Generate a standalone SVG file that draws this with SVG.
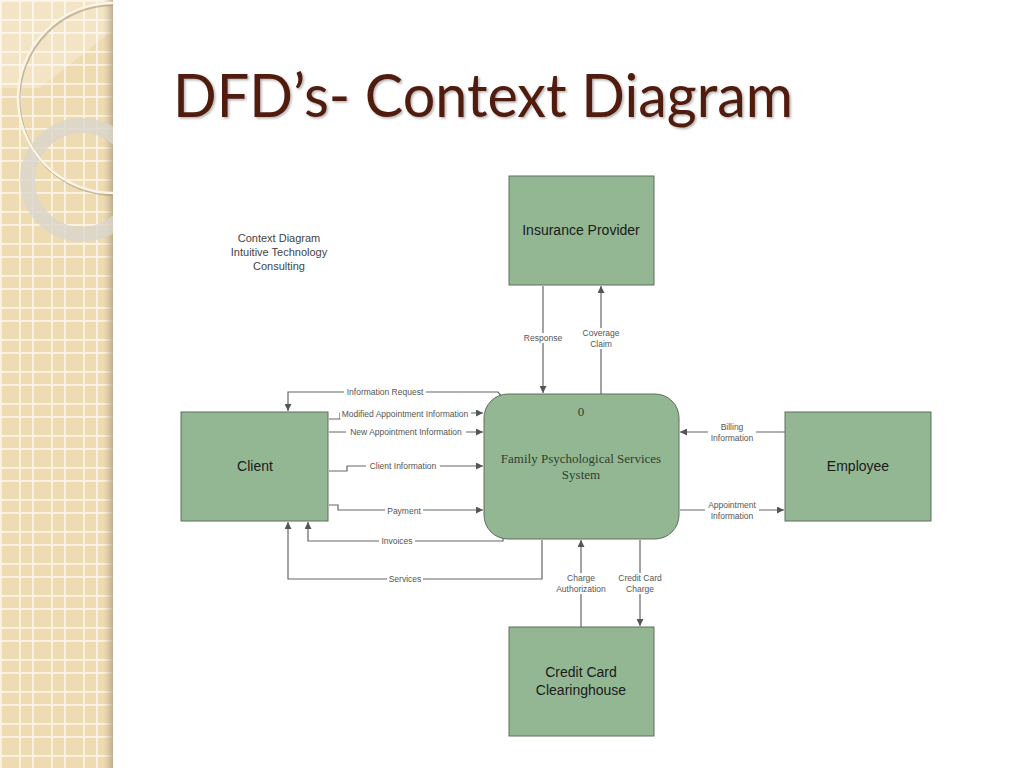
<svg xmlns="http://www.w3.org/2000/svg" width="1024" height="768" viewBox="0 0 1024 768">
<defs>
<style>
.node{fill:#93b793;stroke:#5e6e5e;stroke-width:1}
.ntext{font-family:"Liberation Sans",Arial,sans-serif;font-size:14px;fill:#1a1a1a;text-anchor:middle}
.ptext{font-family:"Liberation Serif","Times New Roman",serif;font-size:13px;fill:#2f3f2f;text-anchor:middle}
.flow{fill:none;stroke:#666;stroke-width:1.2}
.lbl{font-family:"Liberation Sans",Arial,sans-serif;font-size:8.5px;fill:#555;text-anchor:middle}
.lblbg{fill:#fff}
.note{font-family:"Liberation Sans",Arial,sans-serif;font-size:11px;fill:#444;text-anchor:middle}
</style>
<marker id="arr" viewBox="0 0 10 10" refX="10" refY="5" markerWidth="7" markerHeight="7" markerUnits="userSpaceOnUse" orient="auto">
<path d="M0,0 L10,5 L0,10 z" fill="#555"/>
</marker>
<pattern id="grid" x="0" y="0" width="32" height="32" patternUnits="userSpaceOnUse">
<rect width="32" height="32" fill="#efdbb2"/>
<rect x="0" y="0" width="32" height="1.8" fill="#fbf4e4"/>
<rect x="0" y="19" width="32" height="1.8" fill="#fbf4e4"/>
<rect x="0" y="0" width="1.8" height="32" fill="#fbf4e4"/>
<rect x="19" y="0" width="1.8" height="32" fill="#fbf4e4"/>
</pattern>
<linearGradient id="shade" x1="0" y1="0" x2="1" y2="0">
<stop offset="0" stop-color="#c8b89a" stop-opacity="0"/>
<stop offset="1" stop-color="#a89878" stop-opacity="0.7"/>
</linearGradient>
<clipPath id="stripClip"><rect x="0" y="0" width="113" height="768"/></clipPath>
<filter id="tshadow" x="-5%" y="-5%" width="110%" height="120%">
<feDropShadow dx="1.5" dy="1.5" stdDeviation="1" flood-color="#000" flood-opacity="0.3"/>
</filter>
</defs>
<rect width="1024" height="768" fill="#ffffff"/>
<g id="strip" clip-path="url(#stripClip)">
<rect x="0" y="0" width="113" height="768" fill="url(#grid)"/>
<path d="M0,0 L113,0 L113,30 L40,88 L0,88 z" fill="#ffffff" opacity="0.25"/>
<rect x="103" y="0" width="10" height="768" fill="url(#shade)"/>
<circle cx="82" cy="180" r="54.5" fill="none" stroke="#d9d6cc" stroke-opacity="0.8" stroke-width="15"/>
<circle cx="113" cy="98" r="95" fill="none" stroke="#9a8a6a" stroke-opacity="0.5" stroke-width="3" transform="translate(1,1.5)"/>
<circle cx="113" cy="98" r="95" fill="none" stroke="#fbf5e6" stroke-width="2.5"/>
</g>
<text x="173" y="117" font-family="Lato,'Open Sans',sans-serif" font-size="60" fill="#4f1c10" textLength="620" lengthAdjust="spacingAndGlyphs" filter="url(#tshadow)">DFD’s- Context Diagram</text>
<g id="note">
<text class="note" x="279" y="242">Context Diagram</text>
<text class="note" x="279" y="256">Intuitive Technology</text>
<text class="note" x="279" y="270">Consulting</text>
</g>
<g id="connectors">
<path class="flow" d="M543,286 L543,393" marker-end="url(#arr)"/>
<path class="flow" d="M601,394 L601,286" marker-end="url(#arr)"/>
<path class="flow" d="M503,398 L498,392 L288,392 L288,411" marker-end="url(#arr)"/>
<path class="flow" d="M329,419 L340,419 L340,413 L483,413" marker-end="url(#arr)"/>
<path class="flow" d="M329,432 L483,432" marker-end="url(#arr)"/>
<path class="flow" d="M329,471 L347,471 L347,466 L483,466" marker-end="url(#arr)"/>
<path class="flow" d="M329,505 L338,505 L338,510 L483,510" marker-end="url(#arr)"/>
<path class="flow" d="M503,537 L503,541 L308,541 L308,522" marker-end="url(#arr)"/>
<path class="flow" d="M542,540 L542,579 L288,579 L288,522" marker-end="url(#arr)"/>
<path class="flow" d="M785,432 L680,432" marker-end="url(#arr)"/>
<path class="flow" d="M680,510 L784,510" marker-end="url(#arr)"/>
<path class="flow" d="M581,627 L581,540" marker-end="url(#arr)"/>
<path class="flow" d="M640,540 L640,626" marker-end="url(#arr)"/>
<g id="labels">
<rect class="lblbg" x="520" y="333" width="46" height="10"/>
<text class="lbl" x="543" y="341">Response</text>
<rect class="lblbg" x="581" y="328" width="40" height="21"/>
<text class="lbl" x="601" y="336">Coverage</text>
<text class="lbl" x="601" y="347">Claim</text>
<rect class="lblbg" x="344" y="387" width="82" height="10"/>
<text class="lbl" x="385" y="395">Information Request</text>
<rect class="lblbg" x="340" y="409" width="131" height="10"/>
<text class="lbl" x="405" y="417">Modified Appointment Information</text>
<rect class="lblbg" x="346" y="427" width="120" height="10"/>
<text class="lbl" x="406" y="435">New Appointment Information</text>
<rect class="lblbg" x="366" y="461" width="74" height="10"/>
<text class="lbl" x="403" y="469">Client Information</text>
<rect class="lblbg" x="385" y="506" width="38" height="10"/>
<text class="lbl" x="404" y="514">Payment</text>
<rect class="lblbg" x="379" y="536" width="36" height="10"/>
<text class="lbl" x="397" y="544">Invoices</text>
<rect class="lblbg" x="387" y="574" width="36" height="10"/>
<text class="lbl" x="405" y="582">Services</text>
<rect class="lblbg" x="708" y="422" width="48" height="21"/>
<text class="lbl" x="732" y="430">Billing</text>
<text class="lbl" x="732" y="441">Information</text>
<rect class="lblbg" x="705" y="500" width="54" height="21"/>
<text class="lbl" x="732" y="508">Appointment</text>
<text class="lbl" x="732" y="519">Information</text>
<rect class="lblbg" x="553" y="573" width="56" height="21"/>
<text class="lbl" x="581" y="581">Charge</text>
<text class="lbl" x="581" y="592">Authorization</text>
<rect class="lblbg" x="616" y="573" width="48" height="21"/>
<text class="lbl" x="640" y="581">Credit Card</text>
<text class="lbl" x="640" y="592">Charge</text>
</g>
</g>
<g id="insurance">
<rect class="node" x="509" y="176" width="145" height="109"/>
<text class="ntext" x="581" y="235">Insurance Provider</text>
</g>
<g id="client">
<rect class="node" x="181" y="412" width="147" height="109"/>
<text class="ntext" x="255" y="471">Client</text>
</g>
<g id="employee">
<rect class="node" x="785" y="412" width="146" height="109"/>
<text class="ntext" x="858" y="471">Employee</text>
</g>
<g id="clearinghouse">
<rect class="node" x="509" y="627" width="145" height="109"/>
<text class="ntext" x="581" y="677">Credit Card</text>
<text class="ntext" x="581" y="695">Clearinghouse</text>
</g>
<g id="process">
<rect class="node" x="484" y="394" width="195" height="145" rx="24" ry="24"/>
<text class="ptext" x="581" y="416">0</text>
<text class="ptext" x="581" y="463">Family Psychological Services</text>
<text class="ptext" x="581" y="479">System</text>
</g>
</svg>
